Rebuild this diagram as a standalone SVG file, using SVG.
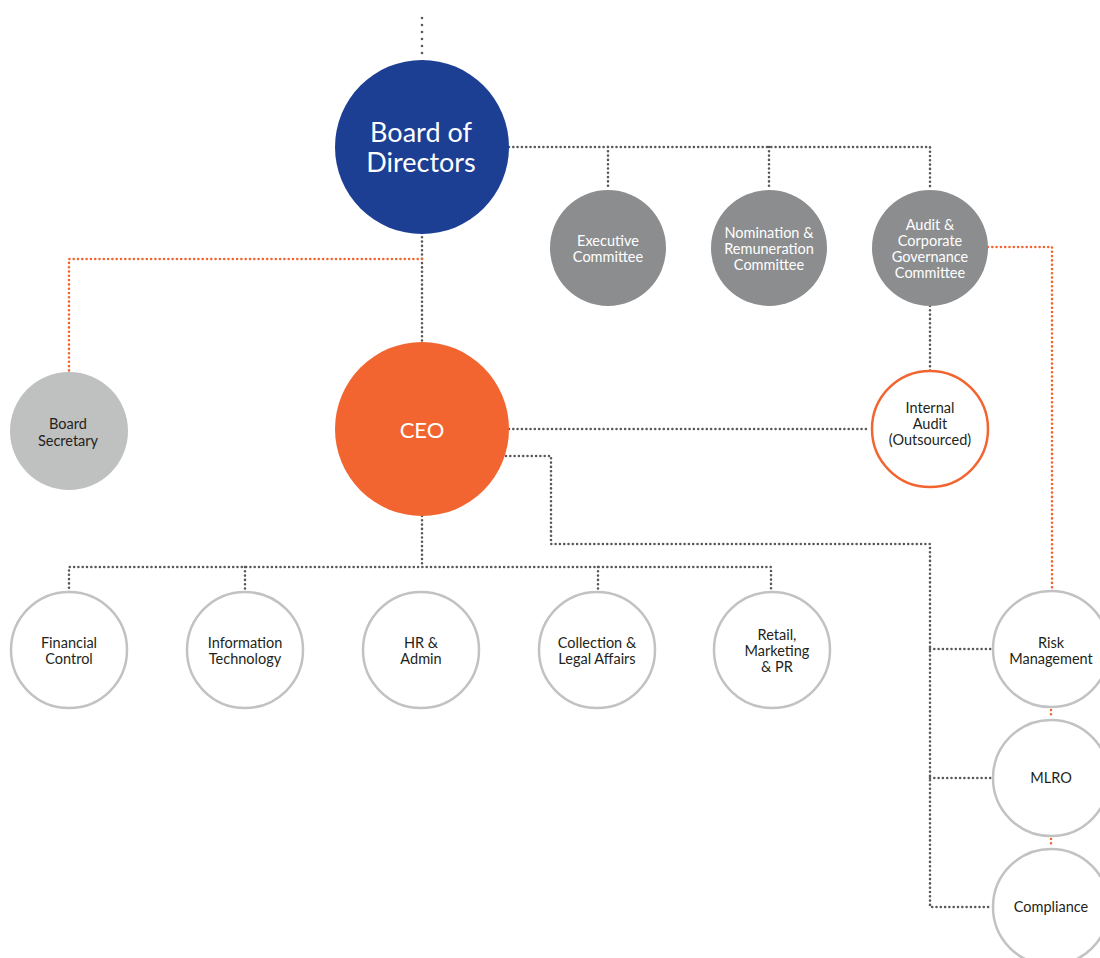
<svg xmlns="http://www.w3.org/2000/svg" width="1100" height="958" viewBox="0 0 1100 958">
<style>
.dg{fill:none;stroke:#58595b;stroke-width:2.6;stroke-linecap:round;stroke-dasharray:0 4.3}
.do{fill:none;stroke:#f26531;stroke-width:2.6;stroke-linecap:round;stroke-dasharray:0 4.3}
.t{font-family:Lato,"Open Sans",sans-serif;font-size:14.5px;text-anchor:middle;fill:#231f20}
.w{fill:#ffffff}
.ring{fill:#ffffff;stroke:#c2c2c2;stroke-width:2.5}
</style>
<g id="connectors">
<path class="dg" d="M422 18 V60" style="stroke-dasharray:0 7"/>
<path class="dg" d="M509 147 H930 V190 M608 147 V190 M769 147 V190"/>
<path class="dg" d="M422 233 V342"/>
<path class="do" d="M422 259 H69 V372"/>
<path class="dg" d="M930 306 V371"/>
<path class="dg" d="M509 429 H870"/>
<path class="do" d="M988 247 H1052 V592"/>
<path class="dg" d="M506 456 H551 V544 H930 V907 H992 M930 649 H992 M930 778 H992"/>
<path class="dg" d="M422 516 V567 M69 592 V567 H771 V592 M245 567 V592 M598 567 V592"/>
<path class="do" d="M1051 710 V718 M1051 839 V847"/>
</g>
<g id="board"><circle cx="422" cy="147" r="87" fill="#1c3f94"/>
<text class="t w" style="font-size:27px" x="421" y="142">Board of</text>
<text class="t w" style="font-size:27px" x="421" y="172">Directors</text></g>
<g id="exec"><circle cx="608" cy="248" r="58" fill="#8c8d8f"/>
<text class="t w" x="608" y="246">Executive</text><text class="t w" x="608" y="262">Committee</text></g>
<g id="nom"><circle cx="769" cy="248" r="58" fill="#8c8d8f"/>
<text class="t w" x="769" y="238">Nomination &amp;</text><text class="t w" x="769" y="254">Remuneration</text><text class="t w" x="769" y="270">Committee</text></g>
<g id="audit"><circle cx="930" cy="248" r="58" fill="#8c8d8f"/>
<text class="t w" x="930" y="230">Audit &amp;</text><text class="t w" x="930" y="246">Corporate</text><text class="t w" x="930" y="262">Governance</text><text class="t w" x="930" y="278">Committee</text></g>
<g id="secretary"><circle cx="69" cy="431" r="59" fill="#bfc0c0"/>
<text class="t" x="68" y="429">Board</text><text class="t" x="68" y="446">Secretary</text></g>
<g id="ceo"><circle cx="422" cy="429" r="87" fill="#f26531"/>
<text class="t w" style="font-size:22px" x="422" y="438">CEO</text></g>
<g id="internal"><circle cx="930" cy="429" r="58" fill="#ffffff" stroke="#f26531" stroke-width="2.5"/>
<text class="t" x="930" y="413">Internal</text><text class="t" x="930" y="429">Audit</text><text class="t" x="930" y="445">(Outsourced)</text></g>
<g id="fin"><circle class="ring" cx="69" cy="650" r="58"/>
<text class="t" x="69" y="648">Financial</text><text class="t" x="69" y="664">Control</text></g>
<g id="it"><circle class="ring" cx="245" cy="650" r="58"/>
<text class="t" x="245" y="648">Information</text><text class="t" x="245" y="664">Technology</text></g>
<g id="hr"><circle class="ring" cx="421" cy="650" r="58"/>
<text class="t" x="421" y="648">HR &amp;</text><text class="t" x="421" y="664">Admin</text></g>
<g id="coll"><circle class="ring" cx="597" cy="650" r="58"/>
<text class="t" x="597" y="648">Collection &amp;</text><text class="t" x="597" y="664">Legal Affairs</text></g>
<g id="retail"><circle class="ring" cx="772" cy="650" r="58"/>
<text class="t" x="777" y="640">Retail,</text><text class="t" x="777" y="656">Marketing</text><text class="t" x="777" y="672">&amp; PR</text></g>
<g id="risk"><circle class="ring" cx="1051" cy="649" r="58"/>
<text class="t" x="1051" y="648">Risk</text><text class="t" x="1051" y="664">Management</text></g>
<g id="mlro"><circle class="ring" cx="1051" cy="778" r="58"/>
<text class="t" x="1051" y="783">MLRO</text></g>
<g id="compliance"><circle class="ring" cx="1051" cy="907" r="58"/>
<text class="t" x="1051" y="912">Compliance</text></g>
</svg>
